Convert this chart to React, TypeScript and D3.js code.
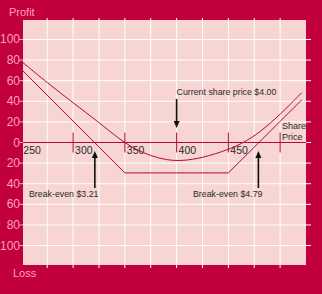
import React from "react";
import * as d3 from "d3";

const optionCurve: [number, number][] = [
  [251.6, 77.5], [275, 58], [300, 38.5], [325, 19.5], [345, 3], [360, -6.5], [375, -13],
  [390, -17], [405, -18], [425, -15], [450, -7], [465, 0], [480, 9.5], [500, 27], [521, 48.5],
];
const payoff: [number, number][] = [
  [251.6, 69.4], [350, -29.5], [450, -29.5], [521, 41.5],
];
const yTicks = [100, 80, 60, 40, 20, 0, 20, 40, 60, 80, 100];
const yTickValues = [100, 80, 60, 40, 20, 0, -20, -40, -60, -80, -100];
const xLabels = [250, 300, 350, 400, 450];
const xMajorTicks = [300, 350, 400, 450, 500];
const xGrid = [275, 300, 325, 350, 375, 400, 425, 450, 475, 500];

const BG = "#c1003d";
const PLOT = "#f6d5d2";
const LINE = "#b3083c";
const LABEL = "#ff9fc0";
const TXT = "#2a2a2a";

export default function App() {
  const W = 322, H = 294;
  const L = 23, R = 306, T = 20, B = 265;
  const x = d3.scaleLinear().domain([251.6, 525]).range([L, R]);
  const y = d3.scaleLinear().domain([-118.9, 118.9]).range([B, T]);
  const line = d3.line<[number, number]>().x(d => x(d[0])).y(d => y(d[1]));
  const curve = d3.line<[number, number]>().x(d => x(d[0])).y(d => y(d[1])).curve(d3.curveBasis);
  const font = "'Liberation Sans', Arial, sans-serif";
  const y0 = y(0);
  const arrow = (ax: number, y1: number, y2: number) => {
    const dir = y2 > y1 ? 1 : -1;
    return (
      <g>
        <line x1={ax} x2={ax} y1={y1} y2={y2 - dir * 5} stroke="#111" strokeWidth={1.6} />
        <path d={`M${ax - 3},${y2 - dir * 7} L${ax + 3},${y2 - dir * 7} L${ax},${y2} Z`} fill="#111" />
      </g>
    );
  };
  return (
    <svg width={W} height={H} style={{ position: "absolute", left: 0, top: 0, display: "block" }}>
      <rect x={0} y={0} width={W} height={H} fill={BG} />
      <rect x={L} y={T} width={R - L} height={B - T} fill={PLOT} />
      {yTickValues.map((v, i) => (
        <line key={"hg" + i} x1={L} x2={R + 5} y1={y(v)} y2={y(v)} stroke="#fff" strokeWidth={1} />
      ))}
      {xGrid.map((v, i) => (
        <line key={"vg" + i} x1={x(v)} x2={x(v)} y1={T - 2} y2={B + 3} stroke="#fff" strokeWidth={1} />
      ))}
      {yTickValues.map((v, i) => (
        <g key={"yl" + i}>
          <line x1={L - 4} x2={L} y1={y(v)} y2={y(v)} stroke={LABEL} strokeWidth={1} />
          <text x={L - 3} y={y(v) + 4} textAnchor="end" fontFamily={font} fontSize={12} fill={LABEL}>{yTicks[i]}</text>
        </g>
      ))}
      <text x={9} y={16} fontFamily={font} fontSize={11} fill={LABEL}>Profit</text>
      <text x={13} y={277} fontFamily={font} fontSize={11} fill={LABEL}>Loss</text>
      <line x1={L} x2={R} y1={y0} y2={y0} stroke={LINE} strokeWidth={1.2} />
      {xMajorTicks.map((v, i) => (
        <line key={"xt" + i} x1={x(v)} x2={x(v)} y1={y0 - 10} y2={y0 + 10} stroke={LINE} strokeWidth={1} />
      ))}
      {xLabels.map((v, i) => (
        <text key={"xl" + i} x={x(v) + 2} y={y0 + 11} fontFamily={font} fontSize={10.5} fill={TXT}>{v}</text>
      ))}
      <text x={x(500) + 2} y={y0 - 14} fontFamily={font} fontSize={9} fill={TXT}>Share</text>
      <text x={x(500) + 2} y={y0 - 3} fontFamily={font} fontSize={9} fill={TXT}>Price</text>
      <path d={curve(optionCurve) || ""} fill="none" stroke={LINE} strokeWidth={1} />
      <path d={line(payoff) || ""} fill="none" stroke={LINE} strokeWidth={1} />
      <text x={x(400)} y={95} fontFamily={font} fontSize={8.8} fill={TXT}>Current share price $4.00</text>
      {arrow(x(400), 99, 128)}
      <text x={29} y={197} fontFamily={font} fontSize={8.8} fill={TXT}>Break-even $3.21</text>
      {arrow(x(321), 188, 151)}
      <text x={193} y={197} fontFamily={font} fontSize={8.8} fill={TXT}>Break-even $4.79</text>
      {arrow(x(479), 188, 151)}
    </svg>
  );
}
